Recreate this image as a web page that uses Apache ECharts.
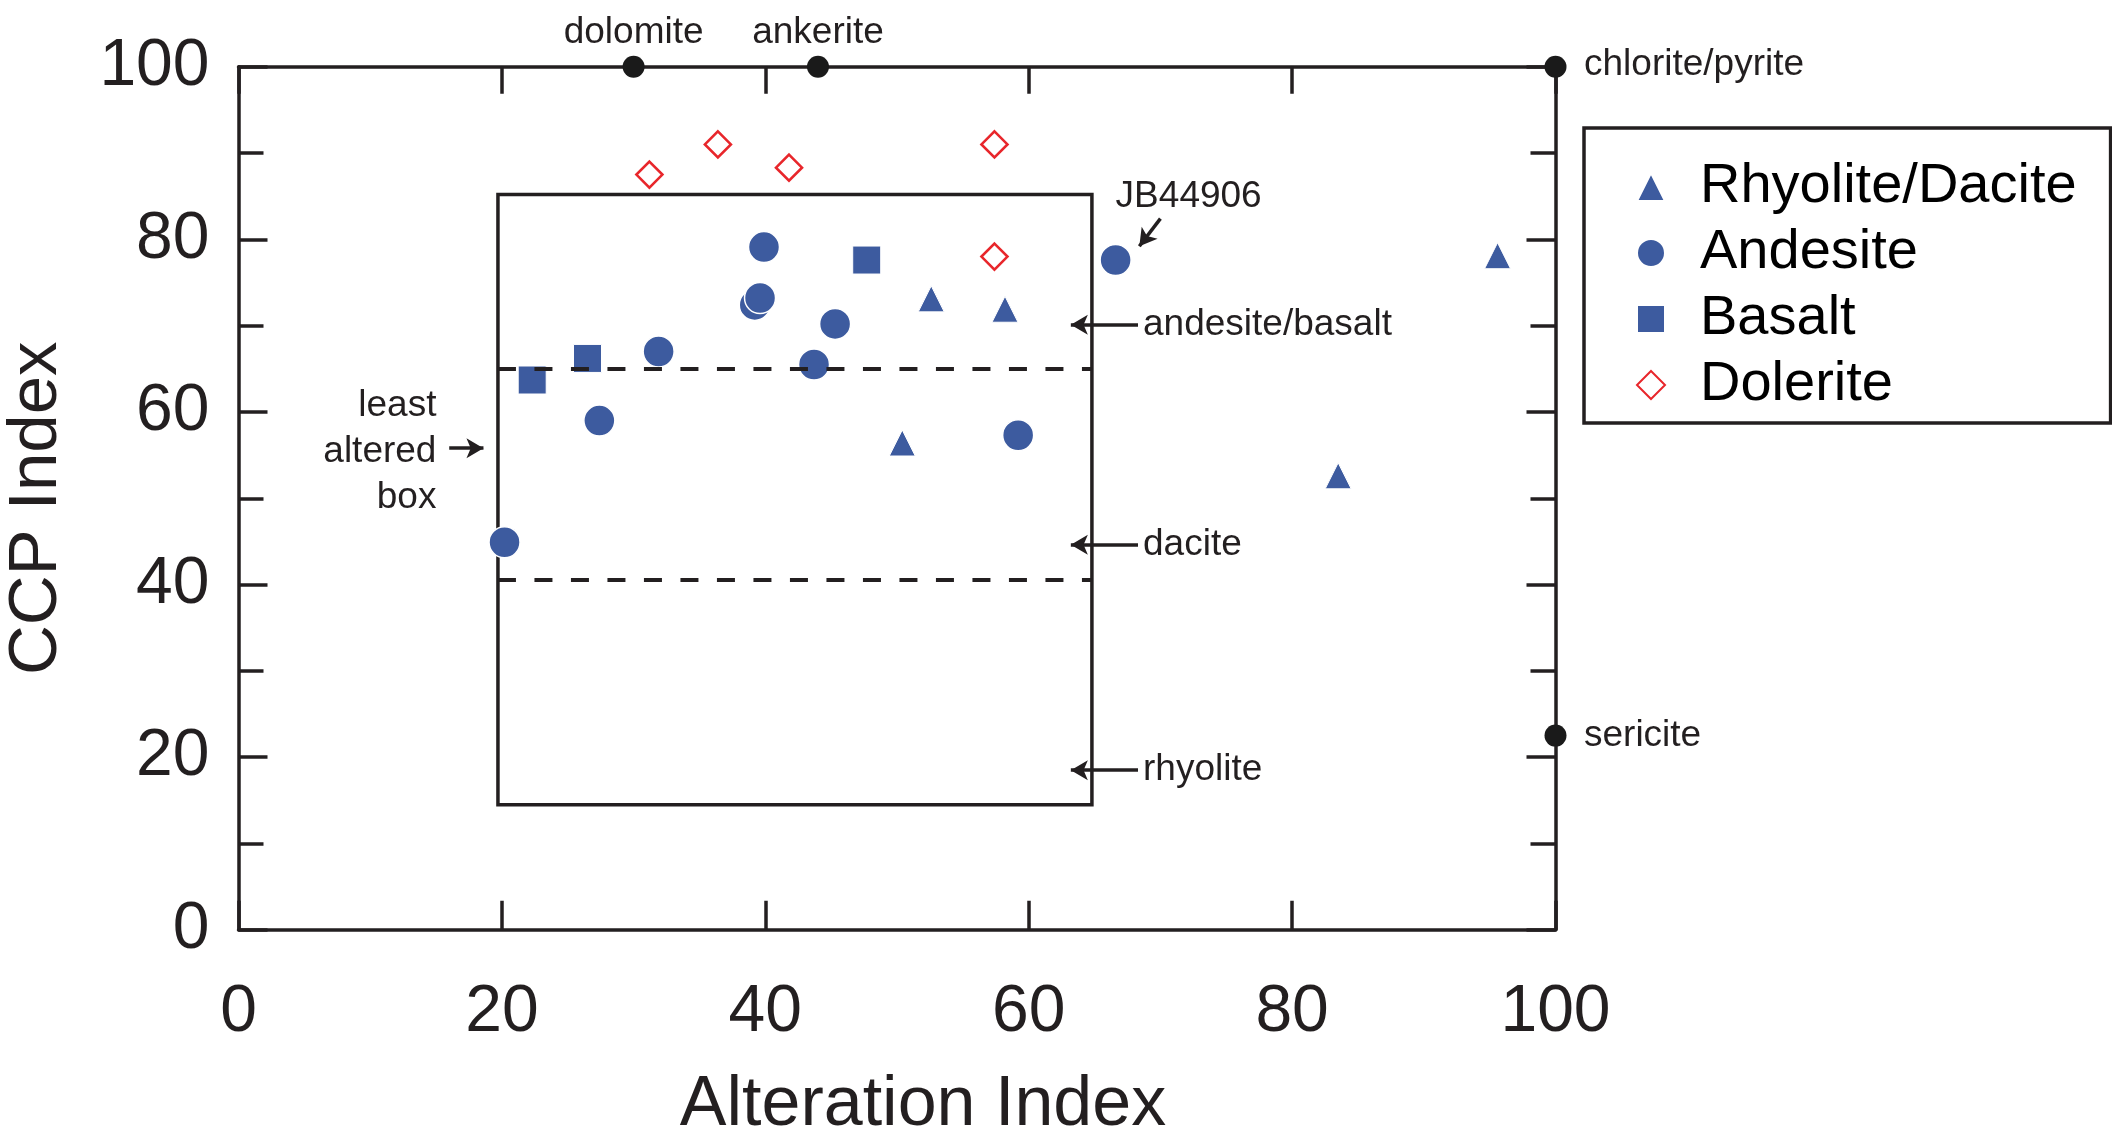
<!DOCTYPE html>
<html><head><meta charset="utf-8">
<script src="https://cdn.jsdelivr.net/npm/echarts@6/dist/echarts.min.js"></script>
<style>html,body{margin:0;padding:0;background:#fff}#c{width:2112px;height:1143px}</style>
</head><body><div id="c"></div>
<script>
// ---- data (Alteration Index, CCP Index) ----
const rhyoliteDacite = [[52.6,73.1],[58.2,71.9],[50.4,56.4],[83.5,52.6],[95.6,78.1]];
const andesite = [[20.2,44.9],[27.4,59.0],[31.9,67.0],[39.2,72.4],[39.6,73.2],[39.9,79.1],[43.7,65.5],[45.3,70.2],[59.2,57.3],[66.6,77.6]];
const basalt = [[22.3,63.7],[26.5,66.2],[47.7,77.6]];
const dolerite = [[31.2,87.5],[36.4,91.0],[41.8,88.3],[57.4,91.0],[57.4,78.0]];
const mineralNames = ['dolomite','ankerite','chlorite/pyrite','sericite'];
const mineralAI = [30, 44, 100, 100];
const mineralCCPI = [100, 100, 100, 22.5];
const boxAI = [19.7, 64.8];
const boxCCPI = [14.5, 85.2];
const dividerCCPI = [65.0, 40.5];
const fieldNames = ['andesite/basalt','dacite','rhyolite'];
const fieldCCPI = [70.1, 44.6, 18.5];
const fieldArrowAI = [68.3, 63.2];
const xTickValues = [0,20,40,60,80,100];
const yTickValues = [0,20,40,60,80,100];

const FONT = '"Liberation Sans", Arial, Helvetica, sans-serif';
const INK = '#231f20';
const BLUE = '#3d5b9f';
const RED = '#e8262b';

const chart = echarts.init(document.getElementById('c'), null, {renderer:'canvas'});

// annotation lines
const annotLines = [];
dividerCCPI.forEach(y => annotLines.push([
  {coord:[boxAI[0], y], symbol:'none', lineStyle:{type:[18,18.5], width:4, color:INK}},
  {coord:[boxAI[1], y], symbol:'none'}
]));
fieldCCPI.forEach(y => annotLines.push([
  {coord:[fieldArrowAI[0], y], symbol:'none', lineStyle:{type:'solid', width:3.5, color:INK}},
  {coord:[fieldArrowAI[1], y], symbol:'arrow', symbolSize:[15,17]}
]));
annotLines.push([
  {coord:[16.0, 55.8], symbol:'none', lineStyle:{type:'solid', width:3.5, color:INK}},
  {coord:[18.6, 55.8], symbol:'arrow', symbolSize:[15,17]}
]);
annotLines.push([
  {coord:[70.0, 82.4], symbol:'none', lineStyle:{type:'solid', width:3.5, color:INK, curveness:0.5}},
  {coord:[68.4, 79.2], symbol:'arrow', symbolSize:[15,17]}
]);

const annotPoints = [];
fieldNames.forEach((n,i) => annotPoints.push({value:[fieldArrowAI[0], fieldCCPI[i]], name:n,
  label:{show:true, position:'right', distance:5, formatter:n}}));
annotPoints.push({value:[15.03, 55.4], name:'lab', label:{show:true, position:'left', distance:0,
  formatter:'least\naltered\nbox', align:'right', lineHeight:46}});
annotPoints.push({value:[66.6, 84.9], name:'JB', label:{show:true, position:'right', distance:0, formatter:'JB44906'}});

const mineralData = mineralNames.map((n,i) => {
  const top = mineralCCPI[i] === 100 && mineralAI[i] < 100;
  return {value:[mineralAI[i], mineralCCPI[i]], name:n,
    label:{show:true, formatter:n, position: top ? 'top' : 'right', distance: top ? 4 : 17.5,
      offset: (n === 'chlorite/pyrite') ? [0,-2] : [0,0]}};
});

const labelStyle = {fontFamily:FONT, fontSize:37, color:INK, opacity:1};

const option = {
  animation:false,
  backgroundColor:'#fff',
  grid:{left:238.5, right:556.5, top:66.7, bottom:213.2, containLabel:false, outerBoundsMode:'none'},
  legend:{
    data:['Rhyolite/Dacite','Andesite','Basalt','Dolerite'],
    orient:'vertical', left:1584, top:128,
    padding:[26,34,5,52], itemGap:0, itemWidth:28, itemHeight:28,
    borderColor:INK, borderWidth:3.5, borderRadius:0,
    textStyle:{fontFamily:FONT, fontSize:56, color:'#000', lineHeight:66, padding:[0,0,0,30]}
  },
  xAxis:[{
    type:'value', min:0, max:100, interval:20, position:'bottom',
    name:'Alteration Index', nameLocation:'middle', nameGap:141,
    nameTextStyle:{fontFamily:FONT, fontSize:70, color:INK, padding:[0,0,0,52]},
    axisLine:{show:true, onZero:false, lineStyle:{color:INK, width:3.5}},
    axisTick:{show:true, inside:true, length:29, lineStyle:{color:INK, width:3.5}},
    axisLabel:{show:true, margin:50, fontFamily:FONT, fontSize:66, color:INK,
      formatter:v => xTickValues.includes(v) ? String(v) : ''},
    splitLine:{show:false}
  },{
    type:'value', min:0, max:100, interval:20, position:'top',
    axisLine:{show:true, onZero:false, lineStyle:{color:INK, width:3.5}},
    axisTick:{show:true, inside:true, length:27, lineStyle:{color:INK, width:3.5}},
    axisLabel:{show:false}, splitLine:{show:false}
  }],
  yAxis:[{
    type:'value', min:0, max:100, interval:20, position:'left',
    name:'CCP Index', nameLocation:'middle', nameGap:167,
    nameTextStyle:{fontFamily:FONT, fontSize:69, color:INK, padding:[0,20,0,0]},
    axisLine:{show:true, onZero:false, lineStyle:{color:INK, width:3.5}},
    axisTick:{show:true, inside:true, length:29, lineStyle:{color:INK, width:3.5}},
    minorTick:{show:true, splitNumber:2, length:25, lineStyle:{color:INK, width:3.5}},
    axisLabel:{show:true, margin:29, fontFamily:FONT, fontSize:66, color:INK,
      formatter:v => yTickValues.includes(v) ? String(v) : ''},
    splitLine:{show:false}, minorSplitLine:{show:false}
  },{
    type:'value', min:0, max:100, interval:20, position:'right',
    axisLine:{show:true, onZero:false, lineStyle:{color:INK, width:3.5}},
    axisTick:{show:true, inside:true, length:29, lineStyle:{color:INK, width:3.5}},
    minorTick:{show:true, splitNumber:2, length:25, lineStyle:{color:INK, width:3.5}},
    axisLabel:{show:false}, splitLine:{show:false}, minorSplitLine:{show:false}
  }],
  series:[
    {
      name:'annotations', type:'scatter', z:1, symbolSize:0, silent:true,
      itemStyle:{opacity:1},
      data:annotPoints,
      label:labelStyle,
      markArea:{silent:true, itemStyle:{color:'rgba(0,0,0,0)', borderColor:INK, borderWidth:3.5},
        data:[[{coord:[boxAI[0], boxCCPI[1]]},{coord:[boxAI[1], boxCCPI[0]]}]]},
      markLine:{silent:true, symbol:['none','none'], label:{show:false}, animation:false,
        lineStyle:{color:INK}, emphasis:{disabled:true}, data:annotLines}
    },
    {
      name:'minerals', type:'scatter', z:4, symbol:'circle', symbolSize:22,
      itemStyle:{color:'#1a1a1a', opacity:1}, data:mineralData, label:labelStyle
    },
    {
      name:'Rhyolite/Dacite', type:'scatter', z:3, symbol:'triangle', symbolSize:26,
      itemStyle:{color:BLUE, borderColor:'#fff', borderWidth:1, opacity:1}, data:rhyoliteDacite
    },
    {
      name:'Andesite', type:'scatter', z:3, symbol:'circle', symbolSize:31,
      itemStyle:{color:BLUE, borderColor:'#fff', borderWidth:1.5, opacity:1}, data:andesite
    },
    {
      name:'Basalt', type:'scatter', z:3, symbol:'rect', symbolSize:28,
      itemStyle:{color:BLUE, borderColor:'#fff', borderWidth:1, opacity:1}, data:basalt
    },
    {
      name:'Dolerite', type:'scatter', z:3, symbol:'diamond', symbolSize:[26,26],
      itemStyle:{color:'#fff', borderColor:RED, borderWidth:2.6, opacity:1}, data:dolerite
    }
  ]
};
chart.setOption(option);
</script></body></html>
